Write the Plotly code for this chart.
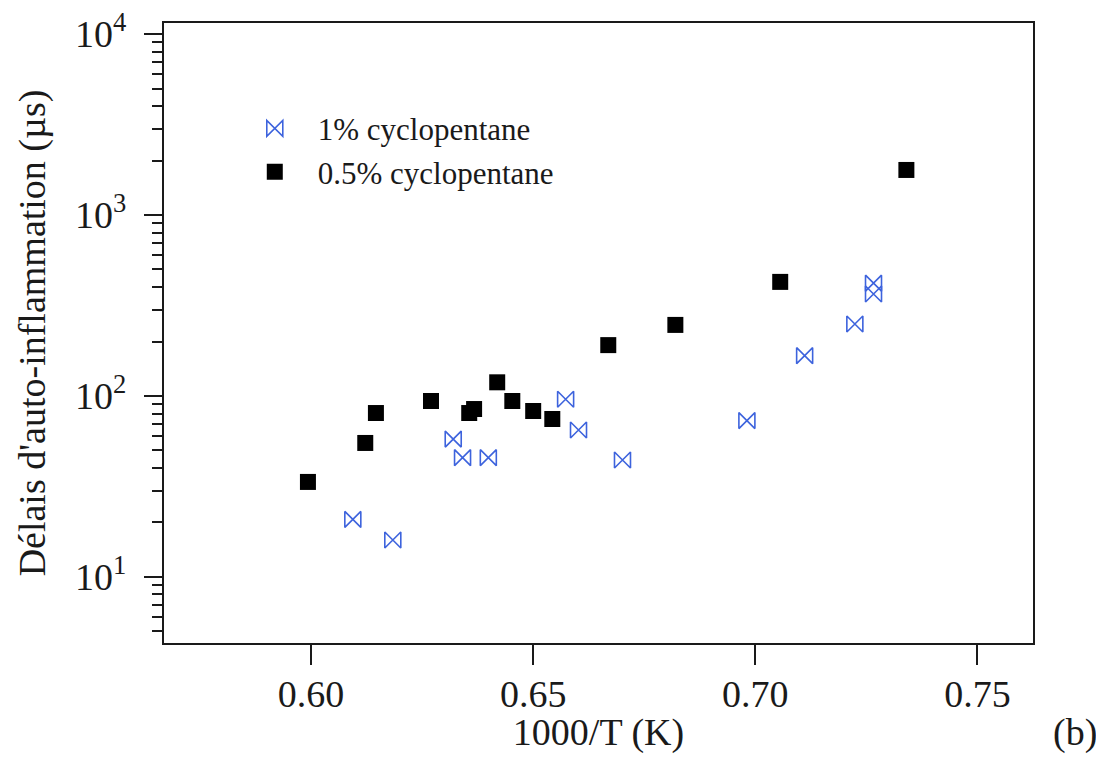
import plotly.graph_objects as go

# 1% cyclopentane
x_1pct = [0.6094, 0.6184, 0.6320, 0.6341, 0.6399, 0.6573, 0.6602, 0.6701, 0.6981, 0.7111, 0.7224, 0.7266, 0.7266]
y_1pct = [20.8, 16.0, 57.8, 45.6, 45.6, 95.9, 64.9, 44.3, 73.1, 167, 250, 420, 366]

# 0.5% cyclopentane
x_05pct = [0.5993, 0.6122, 0.6146, 0.6270, 0.6356, 0.6367, 0.6419, 0.6453, 0.6500, 0.6543, 0.6669, 0.6820, 0.7056, 0.7340]
y_05pct = [33.5, 55.0, 80.5, 93.8, 80.5, 84.7, 119, 93.8, 82.6, 74.6, 191, 247, 427, 1774]

x_ticks = [0.60, 0.65, 0.70, 0.75]
x_ticktext = ["0.60", "0.65", "0.70", "0.75"]
y_ticks = [10, 100, 1000, 10000]
y_ticktext = ["10<sup>1</sup>", "10<sup>2</sup>", "10<sup>3</sup>", "10<sup>4</sup>"]

FONT = "Liberation Serif"
INK = "#1a1a1a"
FS = 38

fig = go.Figure()
fig.add_trace(go.Scatter(
    x=x_1pct, y=y_1pct, mode="markers", name="1% cyclopentane",
    marker=dict(symbol="bowtie-open", size=16, color="#3d63dd",
                line=dict(width=1.6, color="#3d63dd")),
))
fig.add_trace(go.Scatter(
    x=x_05pct, y=y_05pct, mode="markers", name="0.5% cyclopentane",
    marker=dict(symbol="square", size=16, color="#000000",
                line=dict(width=0)),
))

fig.update_layout(
    width=1088, height=746,
    margin=dict(l=156, r=63, t=15, b=111),
    paper_bgcolor="white", plot_bgcolor="white",
    font=dict(family=FONT, color=INK, size=FS),
    showlegend=True,
    legend=dict(x=0.078, y=0.873, xanchor="left", yanchor="top",
                bgcolor="rgba(0,0,0,0)", font=dict(size=31, family=FONT, color=INK),
                itemwidth=76, tracegroupgap=0),
    xaxis=dict(
        range=[0.5669, 0.7625], tickvals=x_ticks, ticktext=x_ticktext,
        ticks="outside", ticklen=20, tickwidth=2, tickcolor=INK,
        ticklabelstandoff=-4,
        showline=True, linewidth=2, linecolor=INK, mirror=True,
        showgrid=False, zeroline=False, automargin=False,
        tickfont=dict(size=FS, family=FONT, color=INK),
        title=dict(text="1000/T (K)", font=dict(size=FS, family=FONT, color=INK), standoff=2),
    ),
    yaxis=dict(
        type="log", range=[0.635, 4.061], tickvals=y_ticks, ticktext=y_ticktext,
        ticks="outside", ticklen=18, tickwidth=2, tickcolor=INK,
        ticklabelstandoff=10, ticklabeloverflow="allow",
        minor=dict(ticks="outside", ticklen=10, tickwidth=2, tickcolor=INK, dtick="D1", showgrid=False),
        showline=True, linewidth=2, linecolor=INK, mirror=True,
        showgrid=False, zeroline=False, automargin=False,
        tickfont=dict(size=FS, family=FONT, color=INK),
        title=dict(text="Délais d'auto-inflammation (µs)", font=dict(size=FS, family=FONT, color=INK), standoff=18),
    ),
    annotations=[dict(text="(b)", x=1.048, y=-0.145, xref="paper", yref="paper",
                      xanchor="center", yanchor="middle", showarrow=False,
                      font=dict(size=FS, family=FONT, color=INK))],
)

fig.write_html("out.html")
